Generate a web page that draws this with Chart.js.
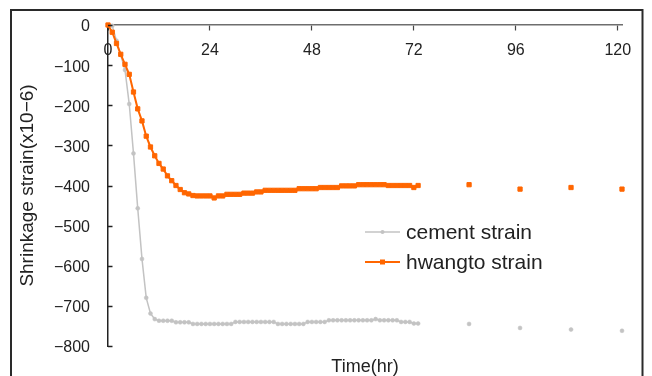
<!DOCTYPE html>
<html>
<head>
<meta charset="utf-8">
<script src="https://cdn.jsdelivr.net/npm/chart.js@4"></script>
<style>
  html, body { margin: 0; padding: 0; background: #fff; }
  canvas { display: block; }
</style>
</head>
<body>
<canvas id="strainChart" width="652" height="376"></canvas>
<script>
// time in hours (hourly readings up to 73 h, then roughly every 12 h)
const hours = [
  0, 1, 2, 3, 4, 5, 6, 7, 8, 9, 10, 11, 12, 13, 14, 15, 16, 17, 18, 19,
  20, 21, 22, 23, 24, 25, 26, 27, 28, 29, 30, 31, 32, 33, 34, 35, 36, 37, 38, 39,
  40, 41, 42, 43, 44, 45, 46, 47, 48, 49, 50, 51, 52, 53, 54, 55, 56, 57, 58, 59,
  60, 61, 62, 63, 64, 65, 66, 67, 68, 69, 70, 71, 72, 73,
  85, 97, 109, 121
];

const cementStrain = [
  0, -2, -39, -75, -112, -197, -320, -457, -583, -680, -719, -733,
  -737, -737, -737, -737, -741, -741, -741, -741,
  -745, -745, -745, -745, -745, -745, -745, -745, -745, -745,
  -740, -740, -740, -740, -740, -740, -740, -740, -740, -740,
  -745, -745, -745, -745, -745, -745, -745,
  -740, -740, -740, -740, -740,
  -736, -736, -736, -736, -736, -736, -736, -736, -736, -736, -736,
  -733, -736, -736, -736, -736, -736, -740, -740, -740, -744, -744,
  -745, -755, -759, -762
];

const hwangtoStrain = [
  0, -18, -46, -73, -98, -123, -167, -209, -239, -277, -304, -326, -345, -359,
  -376, -388, -400, -410, -418, -421, -425,
  -426, -426, -426, -426, -431, -426, -426,
  -422, -422, -422, -422, -419, -419, -419, -416, -416,
  -412, -412, -412, -412, -412, -412, -412, -412,
  -408, -408, -408, -408, -408, -405, -405, -405, -405, -405,
  -401, -401, -401, -401, -398, -398, -398, -398, -398, -398, -398,
  -400, -400, -400, -400, -400, -400, -405, -400,
  -398, -409, -405, -409
];

const xTicks = [0, 24, 48, 72, 96, 120];
const seriesLabels = ["cement strain", "hwangto strain"];

const COLORS = {
  cement: "#c3c3c3",
  hwangto: "#ff6600",
  text: "#222222",
  frame: "#2a2a2a"
};
const FONT = "'Liberation Sans', Arial, sans-serif";

const toPoints = vals => vals.map((v, i) => ({ x: hours[i], y: v }));
// readings after 73 h are isolated points, no connecting line
const gapSegment = {
  borderColor: c => (c.p1.parsed.x - c.p0.parsed.x > 3 ? "rgba(0,0,0,0)" : undefined)
};

// outer frame + inward y ticks + legend inside plot
const decorPlugin = {
  id: "decor",
  beforeDraw(chart) {
    const ctx = chart.ctx;
    ctx.save();
    ctx.fillStyle = "#fff";
    ctx.fillRect(0, 0, chart.width, chart.height);
    ctx.restore();
  },
  afterDraw(chart) {
    const ctx = chart.ctx;
    const y = chart.scales.y;
    ctx.save();
    ctx.strokeStyle = COLORS.frame;
    ctx.lineWidth = 2;
    ctx.strokeRect(11, 10, 631.5, 400);

    ctx.strokeStyle = "#222";
    ctx.lineWidth = 1.5;
    y.ticks.forEach(t => {
      const py = Math.round(y.getPixelForValue(t.value)) + 0.5;
      ctx.beginPath();
      ctx.moveTo(y.right, py);
      ctx.lineTo(y.right + 4.5, py);
      ctx.stroke();
    });

    chart.data.datasets.forEach((ds, i) => {
      const ly = 232 + i * 30;
      ctx.strokeStyle = ds.borderColor;
      ctx.lineWidth = ds.borderWidth;
      ctx.beginPath();
      ctx.moveTo(365, ly);
      ctx.lineTo(400, ly);
      ctx.stroke();
      ctx.fillStyle = ds.pointBackgroundColor;
      if (ds.pointStyle === "rect") {
        ctx.fillRect(380, ly - 2.5, 5, 5);
      } else {
        ctx.beginPath();
        ctx.arc(382.5, ly, 2, 0, Math.PI * 2);
        ctx.fill();
      }
      ctx.fillStyle = COLORS.text;
      ctx.font = "21px " + FONT;
      ctx.textBaseline = "middle";
      ctx.fillText(ds.label, 406, ly + 1);
    });
    ctx.restore();
  }
};

new Chart(document.getElementById("strainChart"), {
  type: "line",
  data: {
    datasets: [
      {
        label: seriesLabels[0],
        data: toPoints(cementStrain),
        borderColor: COLORS.cement,
        backgroundColor: COLORS.cement,
        pointBackgroundColor: COLORS.cement,
        pointBorderColor: COLORS.cement,
        borderWidth: 1.5,
        pointStyle: "circle",
        pointRadius: 2,
        pointBorderWidth: 0.5,
        tension: 0,
        clip: false,
        order: 2,
        segment: gapSegment
      },
      {
        label: seriesLabels[1],
        data: toPoints(hwangtoStrain),
        borderColor: COLORS.hwangto,
        backgroundColor: COLORS.hwangto,
        pointBackgroundColor: COLORS.hwangto,
        pointBorderColor: COLORS.hwangto,
        borderWidth: 2,
        pointStyle: "rect",
        pointRadius: 3,
        pointBorderWidth: 1,
        tension: 0,
        clip: false,
        order: 1,
        segment: gapSegment
      }
    ]
  },
  options: {
    responsive: false,
    animation: false,
    events: [],
    layout: { padding: { left: 0, top: 25, right: 30, bottom: 0 } },
    scales: {
      x: {
        type: "linear",
        position: { y: 0 },
        min: 0,
        max: 121,
        afterBuildTicks: s => { s.ticks = xTicks.map(v => ({ value: v })); },
        afterFit: s => { s.paddingLeft = 0; s.paddingRight = 0; },
        ticks: {
          color: COLORS.text,
          font: { family: FONT, size: 16 },
          padding: 11,
          maxRotation: 0
        },
        grid: {
          drawOnChartArea: false,
          tickLength: 5,
          tickColor: "#444",
          tickWidth: 1.2
        },
        border: { color: "#6e6e6e", width: 1.5 }
      },
      y: {
        min: -800,
        max: 0,
        afterFit: s => {
          s.width = 108;
          s.paddingTop = 0;
          s.paddingBottom = 0;
        },
        ticks: {
          stepSize: 100,
          color: COLORS.text,
          font: { family: FONT, size: 16 },
          padding: 18,
          labelOffset: 2,
          callback: v => (v < 0 ? "\u2212" + Math.abs(v) : String(v))
        },
        grid: { drawOnChartArea: false, drawTicks: false },
        border: { color: "#222", width: 1.5 },
        title: {
          display: true,
          text: "Shrinkage strain(x10\u22126)",
          color: COLORS.text,
          font: { family: FONT, size: 19 },
          padding: { top: 16, bottom: 0 }
        }
      }
    },
    plugins: {
      legend: { display: false },
      tooltip: { enabled: false },
      title: {
        display: true,
        text: "Time(hr)",
        position: "bottom",
        fullSize: false,
        color: COLORS.text,
        font: { family: FONT, size: 18, weight: "normal", lineHeight: 1 },
        padding: { top: 12, bottom: 0 }
      }
    }
  },
  plugins: [decorPlugin]
});
</script>
</body>
</html>
